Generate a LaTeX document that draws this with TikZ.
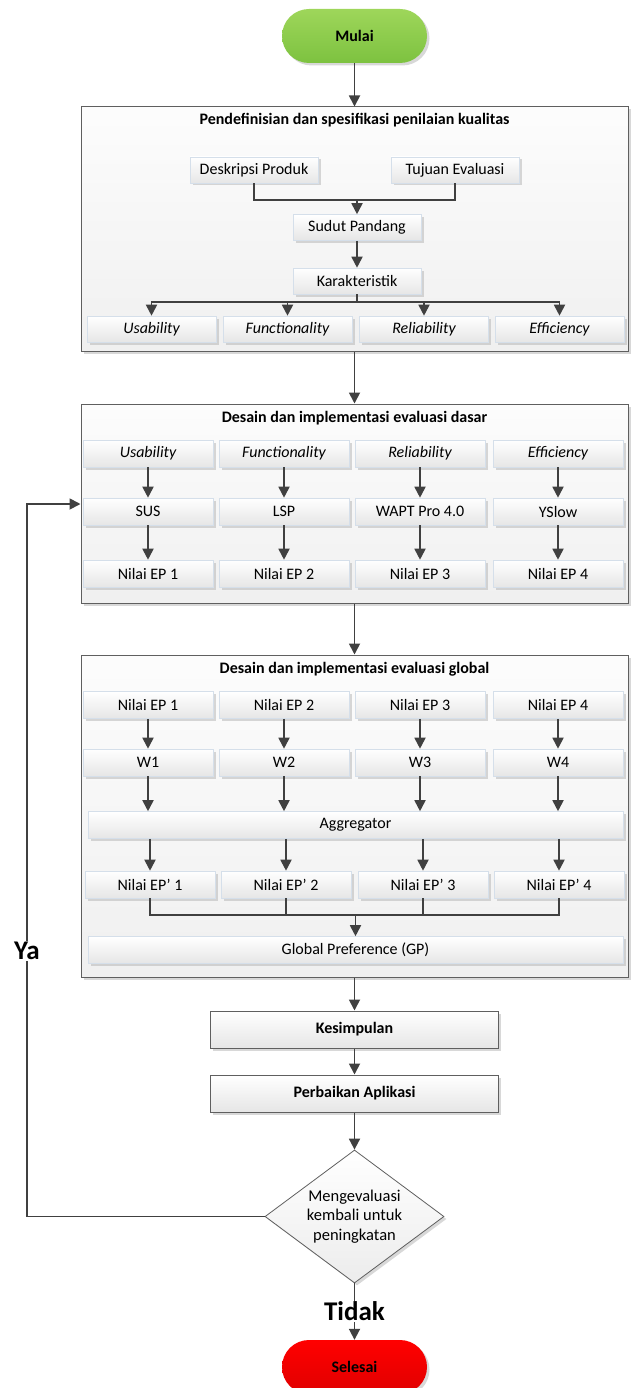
\documentclass[tikz,border=0pt]{standalone}
\usepackage{fontspec}
\setmainfont{Carlito}
\usetikzlibrary{arrows.meta,shapes.geometric,shadows}
\definecolor{arrc}{HTML}{404040}
\definecolor{boxedge}{HTML}{D5DFEA}
\definecolor{boxbot}{HTML}{E6E6E6}
\definecolor{contedge}{HTML}{5F5F5F}
\definecolor{greentop}{HTML}{9ED65A}
\definecolor{greenbot}{HTML}{7DC240}
\definecolor{redtop}{HTML}{FF0000}
\definecolor{redbot}{HTML}{E00000}
\newcommand{\myfs}{\fontsize{16}{19}\selectfont}
\newcommand{\bigfs}{\fontsize{27}{30}\selectfont\bfseries}
\begin{document}
\begin{tikzpicture}[x=1pt,y=-1pt,
  shad/.style={drop shadow={shadow xshift=2.5pt,shadow yshift=-2.5pt,fill=black!30,opacity=0.5}},
  sbox/.style={rectangle,draw=boxedge,line width=0.6pt,top color=white,bottom color=boxbot,
    minimum width=130pt,minimum height=27pt,inner sep=1pt,shad,font=\myfs},
  wbox/.style={sbox,minimum width=535pt},
  container/.style={rectangle,draw=contedge,line width=1pt,top color=gray!2,bottom color=gray!12,
    minimum width=547pt,shad},
  title/.style={font=\myfs\bfseries,inner sep=1pt},
  procbox/.style={rectangle,draw=contedge,line width=1pt,top color=white,bottom color=boxbot,
    minimum width=288pt,minimum height=37pt,shad,font=\myfs\bfseries},
  terminal/.style={rectangle,rounded corners=27pt,minimum width=145pt,minimum height=54pt,
    shad,font=\myfs\bfseries},
  decision/.style={diamond,aspect=1.35,inner sep=0pt,minimum width=179pt,minimum height=133pt,
    draw=contedge,line width=0.8pt,top color=white,bottom color=gray!15,shad,
    font=\fontsize{16.5}{19.5}\selectfont,align=center},
  ln/.style={draw=arrc,line width=1.8pt},
  arr/.style={ln,-{Triangle[width=11pt,length=11pt]}}
]
\useasboundingbox (0,0) rectangle (633,1388);

% terminals
\node[terminal,top color=greentop,bottom color=greenbot] (mulai) at (354.5,36) {Mulai};

% container 1
\node[container,minimum height=244pt] (c1) at (354.5,229) {};
\node[title] (t1) at (354.5,120) {Pendefinisian dan spesifikasi penilaian kualitas};
\node[sbox,minimum width=128pt,minimum height=26pt] (desk) at (254,170) {Deskripsi Produk};
\node[sbox,minimum width=128pt,minimum height=26pt] (tuj) at (455,170) {Tujuan Evaluasi};
\node[sbox,minimum width=128pt,minimum height=26pt] (sud) at (357,227.5) {Sudut Pandang};
\node[sbox,minimum width=128pt,minimum height=26pt] (kar) at (357,281) {Karakteristik};
\node[sbox,minimum width=129pt,minimum height=26pt] (k1) at (151.5,329) {\itshape Usability};
\node[sbox,minimum width=129pt,minimum height=26pt] (k2) at (287.5,329) {\itshape Functionality};
\node[sbox,minimum width=129pt,minimum height=26pt] (k3) at (424,329) {\itshape Reliability};
\node[sbox,minimum width=129pt,minimum height=26pt] (k4) at (559.5,329) {\itshape Efficiency};
\coordinate (m1) at (357,200);
\coordinate (kb) at (357,302);
\draw[ln] (desk.south) |- (m1) -| (tuj.south);
\draw[arr] (m1) -- (sud.north);
\draw[arr] (sud.south) -- (kar.north);
\draw[ln] (kar.south) -- (kb);
\draw[arr] (kb) -| (k1.north);
\draw[arr] (kb) -| (k2.north);
\draw[arr] (kb) -| (k3.north);
\draw[arr] (kb) -| (k4.north);

% container 2
\node[container,minimum height=199pt] (c2) at (354.5,503.5) {};
\node[title] (t2) at (354.5,418) {Desain dan implementasi evaluasi dasar};
\node[sbox] (a1) at (148,453.5) {\itshape Usability};
\node[sbox] (a2) at (284,453.5) {\itshape Functionality};
\node[sbox] (a3) at (420,453.5) {\itshape Reliability};
\node[sbox] (a4) at (558,453.5) {\itshape Efficiency};
\node[sbox] (b1) at (148,511.5) {SUS};
\node[sbox] (b2) at (284,511.5) {LSP};
\node[sbox] (b3) at (420,511.5) {WAPT Pro 4.0};
\node[sbox] (b4) at (558,511.5) {YSlow};
\node[sbox] (n1) at (148,573.5) {Nilai EP 1};
\node[sbox] (n2) at (284,573.5) {Nilai EP 2};
\node[sbox] (n3) at (420,573.5) {Nilai EP 3};
\node[sbox] (n4) at (558,573.5) {Nilai EP 4};
\foreach \i in {1,2,3,4}{
  \draw[arr] (a\i.south) -- (b\i.north);
  \draw[arr] (b\i.south) -- (n\i.north);
}

% container 3
\node[container,minimum height=322pt] (c3) at (354.5,816) {};
\node[title] (t3) at (354.5,669) {Desain dan implementasi evaluasi global};
\node[sbox] (g1) at (148,705) {Nilai EP 1};
\node[sbox] (g2) at (284,705) {Nilai EP 2};
\node[sbox] (g3) at (420,705) {Nilai EP 3};
\node[sbox] (g4) at (558,705) {Nilai EP 4};
\node[sbox] (w1) at (148,762.5) {W1};
\node[sbox] (w2) at (284,762.5) {W2};
\node[sbox] (w3) at (420,762.5) {W3};
\node[sbox] (w4) at (558,762.5) {W4};
\node[wbox] (agg) at (355.5,825) {Aggregator};
\node[sbox] (e1) at (150,884.5) {Nilai EP’ 1};
\node[sbox] (e2) at (286,884.5) {Nilai EP’ 2};
\node[sbox] (e3) at (423,884.5) {Nilai EP’ 3};
\node[sbox] (e4) at (559,884.5) {Nilai EP’ 4};
\node[wbox] (gp) at (355.5,950) {Global Preference (GP)};
\coordinate (gm) at (355.5,915);
\foreach \i in {1,2,3,4}{
  \draw[arr] (g\i.south) -- (w\i.north);
  \draw[arr] (w\i.south) -- (w\i.south |- agg.north);
  \draw[arr] (agg.south -| e\i.north) -- (e\i.north);
  \draw[ln] (e\i.south) |- (gm);
}
\draw[arr] (gm) -- (gp.north);

% lower part
\node[procbox] (kes) at (354.5,1029.5) {Kesimpulan};
\node[procbox] (perb) at (354.5,1093.5) {Perbaikan Aplikasi};
\node[decision] (dia) at (354.5,1216.5) {Mengevaluasi\\kembali untuk\\peningkatan};
\node[terminal,top color=redtop,bottom color=redbot] (sel) at (354.5,1367) {Selesai};

% main flow
\draw[arr] (mulai.south) -- (c1.north);
\draw[arr] (c1.south) -- (c2.north);
\draw[arr] (c2.south) -- (c3.north);
\draw[arr] (c3.south) -- (kes.north);
\draw[arr] (kes.south) -- (perb.north);
\draw[arr] (perb.south) -- (dia.north);
\draw[arr] (dia.south) -- node[fill=white,inner sep=1pt,font=\bigfs,pos=0.5] (tidak) {Tidak} (sel.north);

% loop back
\coordinate (l1) at (27,1216.5);
\coordinate (l2) at (27,504);
\draw[arr] (dia.west) -- (l1) -- node[fill=white,inner sep=1pt,font=\bigfs,pos=0.373] (ya) {Ya} (l2) -- (c2.west |- l2);
\end{tikzpicture}
\end{document}
